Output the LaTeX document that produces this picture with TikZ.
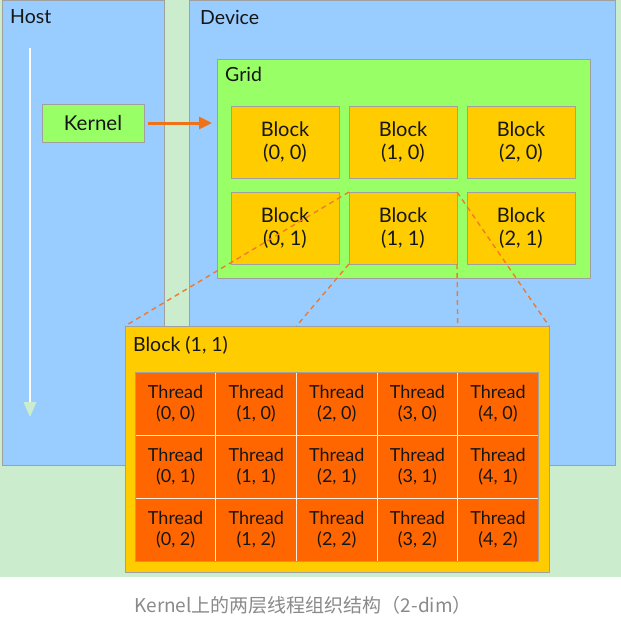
\documentclass[tikz,border=0pt]{standalone}
\usepackage{fontspec}
\setmainfont{Lato}
\newfontfamily\cjk{Noto Sans CJK SC}
\usetikzlibrary{arrows.meta}
\definecolor{bggreen}{HTML}{CBEDCD}
\definecolor{hostblue}{HTML}{99CCFF}
\definecolor{gridgreen}{HTML}{99FF66}
\definecolor{blockyellow}{HTML}{FFCC00}
\definecolor{threadorange}{HTML}{FF6600}
\definecolor{edgegray}{HTML}{A0A0A0}
\definecolor{dashorange}{HTML}{F07A30}
\definecolor{arroworange}{HTML}{EE7318}
\definecolor{captiongray}{HTML}{8A8A8A}
\definecolor{inktext}{HTML}{161616}
\tikzset{
  box/.style={draw=edgegray, line width=1pt, inner sep=0pt, outer sep=0pt, anchor=north west},
  hostbox/.style={box, fill=hostblue},
  gridbox/.style={box, fill=gridgreen},
  blockbox/.style={box, fill=blockyellow, minimum width=108pt, minimum height=72pt,
     text=inktext, align=center, font=\fontsize{20}{23.5}\selectfont},
  threadbox/.style={draw=none, fill=threadorange, inner sep=0pt, outer sep=0pt, anchor=north west,
     minimum width=80.6pt, minimum height=62.9pt, text=inktext, align=center,
     font=\fontsize{18}{20.5}\selectfont},
  lbl/.style={anchor=west, inner sep=0pt, text=inktext, font=\fontsize{19.5}{22}\selectfont},
  zoomline/.style={draw=dashorange, line width=1.4pt, dash pattern=on 5pt off 4pt},
}
\begin{document}
\begin{tikzpicture}[x=1pt, y=-1pt]
\useasboundingbox (0,0) rectangle (621,627);
\fill[bggreen] (0,0) rectangle (621,576.5);
\fill[white] (0,576.5) rectangle (621,627);

% Host and Device
\node[hostbox, minimum width=162pt, minimum height=464.5pt] (host) at (2.5,0.5) {};
\node[hostbox, minimum width=426pt, minimum height=464.5pt] (device) at (189,0.5) {};
\node[lbl] (hostlbl) at (10,17) {Host};
\node[lbl] (devlbl) at (200,17) {Device};

% white time arrow in host
\coordinate (tstart) at (30,48);
\coordinate (tend) at (30,417);
\draw[white, line width=1.5pt] (tstart) -- (30,404);
\fill[bggreen] (tend) -- (23.5,402) -- (36.5,402) -- cycle;

% Kernel
\node[box, fill=gridgreen, minimum width=102pt, minimum height=38pt] (kernel) at (42,104) {};
\node[text=inktext, font=\fontsize{20.5}{22}\selectfont, inner sep=0pt] (kernellbl) at (kernel.center) {Kernel};

% Grid
\node[gridbox, minimum width=373pt, minimum height=219pt] (grid) at (217,59) {};
\node[lbl] (gridlbl) at (225,74) {Grid};

\draw[arroworange, line width=3pt, -{Triangle[length=13pt, width=12pt]},
      shorten <=4pt, shorten >=5pt] (kernel.east) -- (kernel.east -| grid.west);

% Blocks
\foreach \i/\x in {0/231,1/349,2/467}{
  \node[blockbox] (b\i0) at (\x,106) {Block\\(\i, 0)};
  \node[blockbox] (b\i1) at (\x,192) {Block\\(\i, 1)};
}

% Big block
\node[box, fill=blockyellow, minimum width=424pt, minimum height=246pt] (big) at (125,326) {};
\node[lbl] (biglbl) at (133,345) {Block (1, 1)};

% Threads
\foreach \i in {0,...,4}{
  \foreach \j in {0,1,2}{
    \node[threadbox] (t\i\j) at ({135.3+\i*80.6},{372.3+\j*62.9}) {Thread\\(\i, \j)};
  }
}
\foreach \i in {1,...,4}{
  \draw[white!88!threadorange, line width=1pt] (t\i0.north west) -- (t\i2.south west);
}
\foreach \j in {1,2}{
  \draw[white!88!threadorange, line width=1pt] (t0\j.north west) -- (t4\j.north east);
}
\draw[edgegray, line width=1pt] (t00.north west) rectangle (t42.south east);

% zoom lines
\draw[zoomline] (b11.north west) -- (big.north west);
\draw[zoomline] (b11.south west) -- (t20.north west |- big.north);
\draw[zoomline] (b11.south east) -- (t40.north west |- big.north);
\draw[zoomline] (b11.north east) -- (big.north east);

% caption
\node[text=captiongray, font=\cjk\fontsize{19}{22}\selectfont, inner sep=0pt] (caption) at (303,605) {Kernel上的两层线程组织结构（2-dim）};
\end{tikzpicture}
\end{document}
